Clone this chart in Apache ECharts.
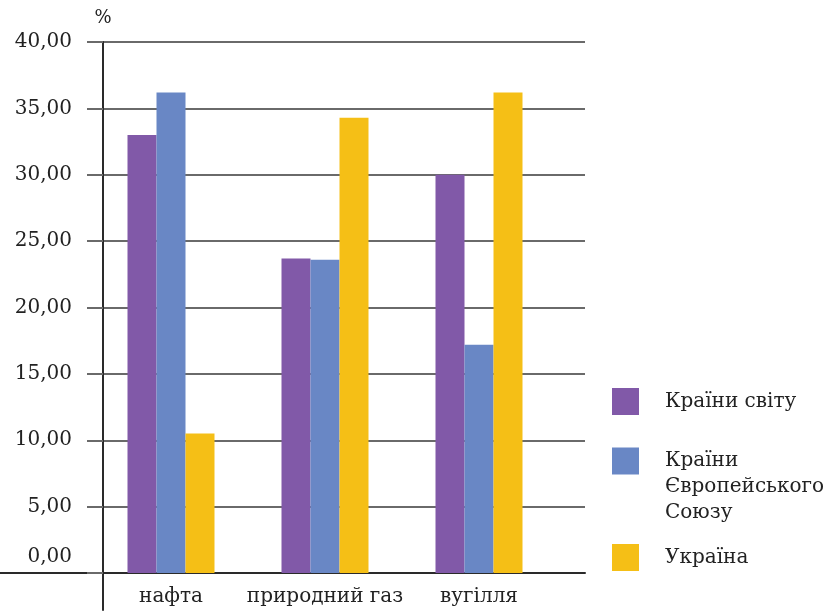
<!DOCTYPE html>
<html>
<head>
<meta charset="utf-8">
<script src="https://cdn.jsdelivr.net/npm/echarts@6/dist/echarts.min.js"></script>
<style>
  html, body { margin: 0; padding: 0; background: #fff; }
  #chart { width: 826px; height: 613px; }
</style>
</head>
<body>
<div id="chart"></div>
<script>
// Energy source shares, %
const categories = ['нафта', 'природний газ', 'вугілля'];
const seriesNames = ['Країни світу', 'Країни Європейського Союзу', 'Україна'];
const worldValues = [33.0, 23.7, 30.0];
const euValues = [36.2, 23.6, 17.2];
const ukraineValues = [10.5, 34.3, 36.2];
// legend captions; blank leading lines keep the first caption line level with its swatch
const legendText = ['Країни світу', '\n\nКраїни\nЄвропейського\nСоюзу', 'Україна'];

const colors = ['#8159a8', '#6987c5', '#f5bf16'];
const FONT = 'DejaVu Serif';
const textColor = '#222';
const gridGray = '#6a6a6a';
const axisBlack = '#2a2a2a';

const chart = echarts.init(document.getElementById('chart'), null, { renderer: 'canvas' });

const valueSeries = [worldValues, euValues, ukraineValues];
const legendTops = [388, 396, 544];

function makeLegend(i) {
  return {
    orient: 'vertical',
    left: 612,
    top: legendTops[i],
    padding: 0,
    itemWidth: 27,
    itemHeight: 27,
    icon: 'rect',
    selectedMode: false,
    textStyle: { color: textColor, fontFamily: FONT, fontSize: 20, lineHeight: 26, padding: [0, 0, 0, 21] },
    formatter: () => legendText[i],
    data: [seriesNames[i]]
  };
}

chart.setOption({
  animation: false,
  backgroundColor: '#fff',
  textStyle: { fontFamily: FONT },
  grid: [
    // value scale with gridlines
    { left: 103, right: 241, top: 42, bottom: 40 },
    // bars
    { left: 94, right: 270, top: 42, bottom: 40 },
    // horizontal base line
    { left: 0, right: 241, top: 42, bottom: 40 },
    // vertical axis line, extended below the base
    { left: 103, right: 241, top: 42, bottom: 3 }
  ],
  xAxis: [
    { gridIndex: 0, type: 'category', data: categories, show: false },
    {
      gridIndex: 1, type: 'category', data: categories,
      axisLine: { show: false }, axisTick: { show: false },
      axisLabel: { interval: 0, margin: 14, color: textColor, fontFamily: FONT, fontSize: 20 }
    },
    {
      gridIndex: 2, type: 'value', min: 0, max: 1,
      axisLine: { show: true, lineStyle: { color: axisBlack, width: 2 } },
      axisTick: { show: false }, axisLabel: { show: false }, splitLine: { show: false }
    },
    { gridIndex: 3, type: 'value', min: 0, max: 1, show: false }
  ],
  yAxis: [
    {
      gridIndex: 0, type: 'value', min: 0, max: 40, interval: 5,
      name: '%', nameLocation: 'end', nameGap: 15,
      nameTextStyle: { color: textColor, fontFamily: FONT, fontSize: 18, align: 'center' },
      axisLine: { show: false },
      axisTick: { show: true, inside: false, length: 16, lineStyle: { color: gridGray, width: 2 } },
      axisLabel: {
        margin: 31, color: textColor, fontFamily: FONT, fontSize: 20, lineHeight: 32,
        padding: [0, 0, 4, 0],
        // the zero label sits above the base line
        formatter: v => v === 0 ? '0,00\n ' : v.toFixed(2).replace('.', ',')
      },
      splitLine: { show: true, lineStyle: { color: gridGray, width: 2 } }
    },
    { gridIndex: 1, type: 'value', min: 0, max: 40, show: false },
    { gridIndex: 2, type: 'value', min: 0, max: 1, show: false },
    {
      gridIndex: 3, type: 'value', min: 0, max: 1,
      axisLine: { show: true, lineStyle: { color: axisBlack, width: 2 } },
      axisTick: { show: false }, axisLabel: { show: false }, splitLine: { show: false }
    }
  ],
  legend: [makeLegend(0), makeLegend(1), makeLegend(2)],
  series: seriesNames.map((name, i) => ({
    name,
    type: 'bar',
    xAxisIndex: 1,
    yAxisIndex: 1,
    data: valueSeries[i],
    barWidth: 29,
    barGap: '0%',
    z: 3,
    itemStyle: { color: colors[i] }
  }))
});
</script>
</body>
</html>
